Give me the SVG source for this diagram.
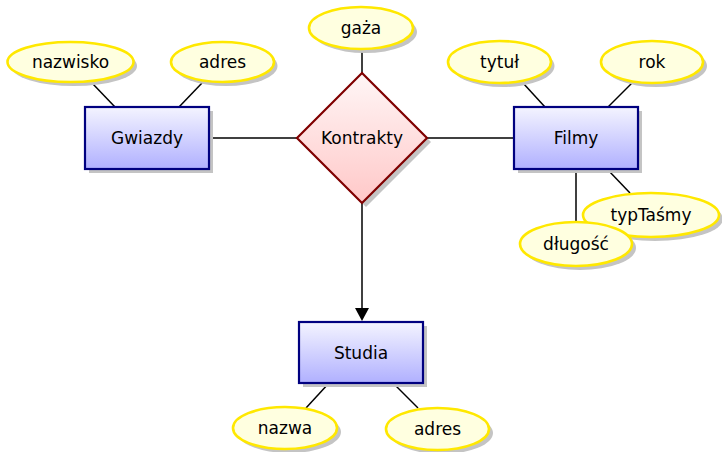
<svg xmlns="http://www.w3.org/2000/svg" width="722" height="452" viewBox="0 0 722 452">
<style>
text{font-family:"DejaVu Sans","Liberation Sans",sans-serif;font-size:17px;fill:#000;text-anchor:middle;dominant-baseline:central}
.ent{fill:url(#gEnt);stroke:#000080;stroke-width:2.2}
.rel{fill:url(#gRel);stroke:#800000;stroke-width:2.2}
.att{fill:#ffffe0;stroke:#ffe800;stroke-width:2.6}
.sh{fill:#c4c4c4}
.ln{stroke:#000;stroke-width:1.5;fill:none}
</style>
<defs>
<linearGradient id="gEnt" x1="0" y1="0" x2="0" y2="1"><stop offset="0" stop-color="#f4f4ff"/><stop offset="1" stop-color="#b0b0ff"/></linearGradient>
<linearGradient id="gRel" x1="0" y1="0" x2="0" y2="1"><stop offset="0" stop-color="#fff6f6"/><stop offset="1" stop-color="#ffc8c8"/></linearGradient>
</defs>
<g id="connectors">
<line class="ln" x1="92" y1="83" x2="115" y2="107"/>
<line class="ln" x1="202" y1="83" x2="179" y2="107"/>
<line class="ln" x1="209" y1="138" x2="297" y2="138"/>
<line class="ln" x1="362" y1="50" x2="362" y2="73"/>
<line class="ln" x1="427" y1="138" x2="514" y2="138"/>
<line class="ln" x1="523" y1="83" x2="545" y2="107"/>
<line class="ln" x1="632" y1="83" x2="608" y2="107"/>
<line class="ln" x1="576" y1="169" x2="576" y2="223"/>
<line class="ln" x1="608" y1="170" x2="630" y2="193"/>
<line class="ln" x1="329" y1="383" x2="306" y2="408"/>
<line class="ln" x1="393" y1="383" x2="418" y2="408"/>
<line class="ln" x1="362" y1="203" x2="362" y2="309"/>
<path d="M355,308 L369,308 L362,321 Z" fill="#000"/>
</g>
<g id="Gwiazdy"><rect class="sh" x="89" y="111" width="124" height="62"/><rect class="ent" x="85" y="107" width="124" height="62"/><text x="147" y="138">Gwiazdy</text></g>
<g id="Kontrakty"><polygon class="sh" points="366,77 431,142 366,207 301,142"/><polygon class="rel" points="362,73 427,138 362,203 297,138"/><text x="362" y="138">Kontrakty</text></g>
<g id="Filmy"><rect class="sh" x="518" y="111" width="124" height="62"/><rect class="ent" x="514" y="107" width="124" height="62"/><text x="576" y="138">Filmy</text></g>
<g id="Studia"><rect class="sh" x="303" y="326" width="124" height="61"/><rect class="ent" x="299" y="322" width="124" height="61"/><text x="361" y="353">Studia</text></g>
<g id="nazwisko"><ellipse class="sh" cx="74" cy="66" rx="63" ry="20"/><ellipse class="att" cx="70.5" cy="62" rx="63" ry="20"/><text x="70.5" y="62">nazwisko</text></g>
<g id="adres1"><ellipse class="sh" cx="226" cy="66" rx="51.5" ry="20"/><ellipse class="att" cx="222.5" cy="62" rx="51.5" ry="20"/><text x="222.5" y="62">adres</text></g>
<g id="gaza"><ellipse class="sh" cx="365" cy="32" rx="52" ry="21"/><ellipse class="att" cx="361" cy="28" rx="52" ry="21"/><text x="361" y="28">gaża</text></g>
<g id="tytul"><ellipse class="sh" cx="503" cy="66" rx="51.5" ry="21"/><ellipse class="att" cx="499.5" cy="62" rx="51.5" ry="21"/><text x="499.5" y="62">tytuł</text></g>
<g id="rok"><ellipse class="sh" cx="656" cy="66" rx="51" ry="21"/><ellipse class="att" cx="652" cy="62" rx="51" ry="21"/><text x="652" y="62">rok</text></g>
<g id="typTasmy"><ellipse class="sh" cx="655" cy="219" rx="68" ry="22"/><ellipse class="att" cx="651" cy="215" rx="68" ry="22"/><text x="651" y="215">typTaśmy</text></g>
<g id="dlugosc"><ellipse class="sh" cx="580" cy="248" rx="56" ry="22"/><ellipse class="att" cx="576" cy="244" rx="56" ry="22"/><text x="576" y="244">długość</text></g>
<g id="nazwa"><ellipse class="sh" cx="289" cy="432" rx="52" ry="21"/><ellipse class="att" cx="285" cy="428" rx="52" ry="21"/><text x="285" y="428">nazwa</text></g>
<g id="adres2"><ellipse class="sh" cx="441.5" cy="433" rx="51.5" ry="21"/><ellipse class="att" cx="437.5" cy="429" rx="51.5" ry="21"/><text x="437.5" y="429">adres</text></g>
</svg>
